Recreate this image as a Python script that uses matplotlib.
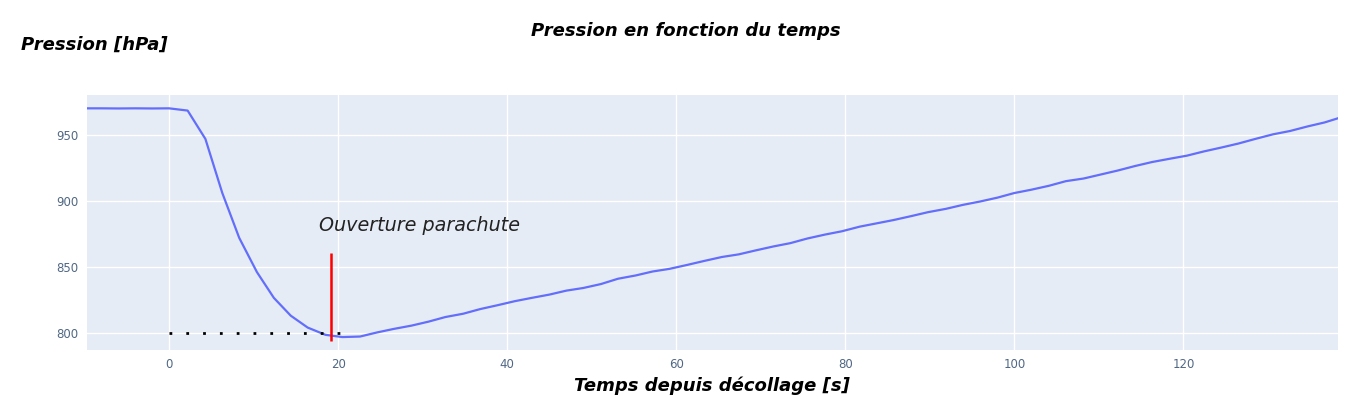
import matplotlib.pyplot as plt

# donnees
temps = [-10, -8, -6, -4, -2, 0, 2.2, 4.3, 6.3, 8.3, 10.4, 12.4, 14.4, 16.4, 18.5,
         20.5, 22.6, 24.6, 26.6, 28.7, 30.7, 32.7, 34.8, 36.8, 38.9, 40.9, 42.9,
         45.0, 47.0, 49.0, 51.1, 53.1, 55.2, 57.2, 59.2, 61.3, 63.3, 65.4, 67.4,
         69.4, 71.5, 73.5, 75.5, 77.6, 79.6, 81.7, 83.7, 85.7, 87.8, 89.8, 91.9,
         93.9, 95.9, 98.0, 100.0, 102.0, 104.1, 106.1, 108.2, 110.2, 112.2, 114.3,
         116.3, 118.4, 120.4, 122.4, 124.5, 126.5, 128.5, 130.6, 132.6, 134.7,
         136.7, 138.7]
pression = [970.2, 970.2, 970.1, 970.2, 970.1, 970.2, 968.5, 947, 906, 872, 846,
            826.5, 813, 804, 798.5, 796.8, 797.2, 800.3, 803, 805.5, 808.5, 812,
            814.5, 818, 821, 824, 826.5, 829, 832, 834, 837, 841, 843.5, 846.5,
            848.5, 851.5, 854.5, 857.5, 859.5, 862.5, 865.5, 868, 871.5, 874.5,
            877, 880.5, 883, 885.5, 888.5, 891.5, 894, 897, 899.5, 902.5, 906,
            908.5, 911.5, 915, 917, 920, 923, 926.5, 929.5, 932, 934.3, 937.5,
            940.5, 943.5, 947, 950.5, 953, 956.5, 959.5, 963.5]

t_parachute = 19.2
p_min = 800
annot = "Ouverture parachute"

fig = plt.figure(figsize=(13.71, 4.18), dpi=100)
ax = fig.add_axes([0.0635, 0.1627, 0.9125, 0.61])
ax.set_facecolor("#E5ECF6")

ax.plot(temps, pression, color="#636EFA", linewidth=1.6, zorder=3)
ax.hlines(p_min, 0, 20.3, colors="black", linewidth=2, linestyles=(0, (1, 5.05)), zorder=4)
ax.vlines(t_parachute, 794, 860.5, colors="red", linewidth=1.8, zorder=5)
ax.text(17.7, 881, annot, fontsize=13.8, style="italic", family="DejaVu Sans",
        color="#222222", va="center", ha="left")

ax.set_xlim(-9.7, 138.3)
ax.set_ylim(787, 980.3)
ax.set_xticks(range(0, 140, 20))
ax.set_yticks([800, 850, 900, 950])
ax.grid(True, color="white", linewidth=1)
ax.set_axisbelow(True)
for s in ax.spines.values():
    s.set_visible(False)
ax.tick_params(length=0, labelsize=8.5, labelcolor="#506784", pad=6)

fig.text(0.5, 0.925, "Pression en fonction du temps", ha="center", va="center",
         fontsize=13, fontweight="bold", style="italic", family="DejaVu Sans")
fig.text(0.015, 0.893, "Pression [hPa]", ha="left", va="center",
         fontsize=13, fontweight="bold", style="italic", family="DejaVu Sans")
fig.text(0.519, 0.078, "Temps depuis décollage [s]", ha="center", va="center",
         fontsize=13, fontweight="bold", style="italic", family="DejaVu Sans")

fig.savefig("out.png", dpi=100)
